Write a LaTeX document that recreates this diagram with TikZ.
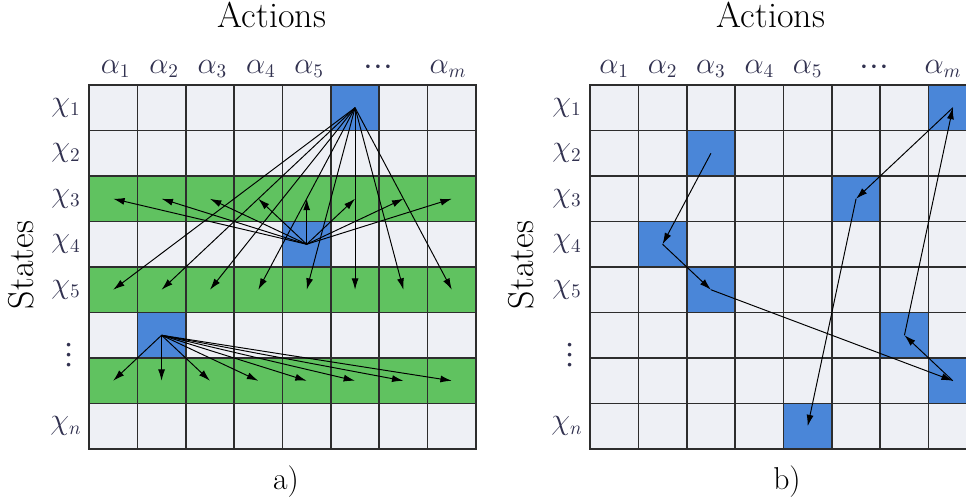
\documentclass[tikz,border=0pt]{standalone}
\usepackage{amsmath}
\usepackage{graphicx}
\usepackage{tikz}
\usetikzlibrary{arrows.meta}
\definecolor{cellgrey}{RGB}{238,240,245}
\definecolor{cellgreen}{RGB}{96,194,96}
\definecolor{cellblue}{RGB}{74,134,216}
\definecolor{gridgrey}{RGB}{45,45,45}
\definecolor{labgrey}{RGB}{50,50,80}
\newcommand{\onedot}{\hbox to 5.7pt{\hss\fontsize{7}{8}\selectfont\textbullet\hss}}
\newcommand{\rowdots}{\hbox{\onedot\onedot\onedot}}
\newcommand{\coldots}{\rotatebox{90}{\rowdots}}

\begin{document}
\begin{tikzpicture}[x=0.02cm,y=-0.02cm,>={Latex[length=6.5pt,width=4pt]},
    font=\fontsize{16}{19}\selectfont,
    gridline/.style={draw=gridgrey,line width=0.9pt,line cap=rect},
    arr/.style={->,line width=0.55pt},
    lab/.style={text=labgrey},
    head/.style={font=\fontsize{20.5}{24}\selectfont},
    subcap/.style={font=\fontsize{18}{21}\selectfont}]
        \def\cellw{48.375}
        \def\cellh{45.5}

        \useasboundingbox (0,0) rectangle (966,498);
        \clip (0,0) rectangle (966,498);

        % a) full search
        \begin{scope}[shift={(89,85)}]
            \fill[cellgrey] (0,0) rectangle (8*\cellw,8*\cellh);
            \foreach \r in {3,5,7}
                \fill[cellgreen] (0,{(\r-1)*\cellh}) rectangle (8*\cellw,\r*\cellh);
            \foreach \r/\c in {1/6,4/5,6/2}
                \fill[cellblue] ({(\c-1)*\cellw},{(\r-1)*\cellh}) rectangle ++(\cellw,\cellh);
            \foreach \i in {0,...,8} {
                \draw[gridline] (\i*\cellw,0) -- (\i*\cellw,8*\cellh);
                \draw[gridline] (0,\i*\cellh) -- (8*\cellw,\i*\cellh);
            }
            \foreach \r in {1,...,8}
                \foreach \c in {1,...,8}
                    \coordinate (L-\r-\c) at ({(\c-0.5)*\cellw},{(\r-0.5)*\cellh});

            \foreach \c in {1,...,8} {
                \draw[arr] (L-1-6) -- (L-5-\c);
                \draw[arr] (L-4-5) -- (L-3-\c);
                \draw[arr] (L-6-2) -- (L-7-\c);
            }

            \node[head,anchor=base] (L-title) at (183,-58) {Actions};
            \foreach \c in {1,...,5}
                \node[lab,anchor=base] (L-a\c) at ({(\c-0.5)*\cellw+2.5},-12) {$\alpha_{\c}$};
            \node[lab] (L-adots) at (289,-18) {\rowdots};
            \node[lab,anchor=base] (L-am) at (359,-12) {$\alpha_m$};
            \foreach \r in {1,...,5}
                \node[lab] (L-s\r) at (-23,{(\r-0.5)*\cellh}) {$\chi_{\r}$};
            \node[lab] (L-sdots) at (-20,{6*\cellh-3}) {\coldots};
            \node[lab] (L-sn) at (-23,{7.5*\cellh}) {$\chi_n$};
            \node[head,rotate=90,anchor=base] (L-states) at (-56,180) {States};
            \node[subcap,anchor=base] (L-cap) at (197,404) {a)};
        \end{scope}

        % b) one path through the table
        \begin{scope}[shift={(590,85)}]
            \fill[cellgrey] (0,0) rectangle (8*\cellw,8*\cellh);
            \foreach \r/\c in {1/8,2/3,3/6,4/2,5/3,6/7,7/8,8/5}
                \fill[cellblue] ({(\c-1)*\cellw},{(\r-1)*\cellh}) rectangle ++(\cellw,\cellh);
            \foreach \i in {0,...,8} {
                \draw[gridline] (\i*\cellw,0) -- (\i*\cellw,8*\cellh);
                \draw[gridline] (0,\i*\cellh) -- (8*\cellw,\i*\cellh);
            }
            \foreach \r in {1,...,8}
                \foreach \c in {1,...,8}
                    \coordinate (R-\r-\c) at ({(\c-0.5)*\cellw},{(\r-0.5)*\cellh});

            \foreach \a/\b in {2-3/4-2,4-2/5-3,5-3/7-8,7-8/6-7,6-7/1-8,1-8/3-6,3-6/8-5}
                \draw[arr] (R-\a) -- (R-\b);

            \node[head,anchor=base] (R-title) at (181,-58) {Actions};
            \foreach \c in {1,...,5}
                \node[lab,anchor=base] (R-a\c) at ({(\c-0.5)*\cellw},-12) {$\alpha_{\c}$};
            \node[lab] (R-adots) at (284,-18) {\rowdots};
            \node[lab,anchor=base] (R-am) at (353,-12) {$\alpha_m$};
            \foreach \r in {1,...,5}
                \node[lab] (R-s\r) at (-23,{(\r-0.5)*\cellh}) {$\chi_{\r}$};
            \node[lab] (R-sdots) at (-20,{6*\cellh-3}) {\coldots};
            \node[lab] (R-sn) at (-23,{7.5*\cellh}) {$\chi_n$};
            \node[head,rotate=90,anchor=base] (R-states) at (-57,180) {States};
            \node[subcap,anchor=base] (R-cap) at (197,404) {b)};
        \end{scope}
    \end{tikzpicture}
\end{document}
